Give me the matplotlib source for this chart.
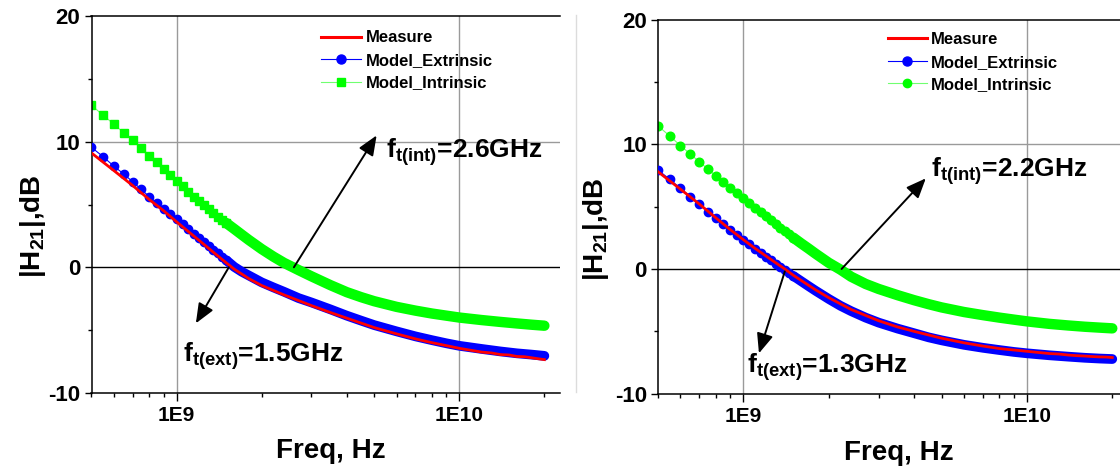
import numpy as np
import matplotlib
matplotlib.use("Agg")
import matplotlib.pyplot as plt
from matplotlib.ticker import LogLocator, NullFormatter
from matplotlib.lines import Line2D

plt.rcParams['font.family'] = ['Liberation Sans', 'DejaVu Sans']
plt.rcParams['font.weight'] = 'bold'
plt.rcParams['axes.labelweight'] = 'bold'
plt.rcParams['axes.unicode_minus'] = False
plt.rcParams['mathtext.fontset'] = 'custom'
plt.rcParams['mathtext.rm'] = 'Liberation Sans:bold'
plt.rcParams['mathtext.bf'] = 'Liberation Sans:bold'
plt.rcParams['mathtext.default'] = 'rm'

# frequencies in GHz; low part every 50 MHz (distinct markers), then sparser
f_lo = [0.50, 0.55, 0.60, 0.65, 0.70, 0.75, 0.80, 0.85, 0.90, 0.95, 1.00, 1.05,
        1.10, 1.15, 1.20, 1.25, 1.30, 1.35, 1.40, 1.45, 1.50, 1.55, 1.60]
f_hi = [1.7, 1.8, 2.0, 2.2, 2.4, 2.7, 3.0, 3.5, 4.0, 4.5, 5.0, 6.0, 7.0, 8.0,
        9.0, 10, 12, 14, 16, 18, 20]

# ---- left device (ft ext 1.5 GHz / ft int 2.6 GHz)
ext_left = [9.55, 8.80, 8.05, 7.43, 6.80, 6.20, 5.63, 5.13, 4.67, 4.23, 3.82, 3.43,
            3.05, 2.69, 2.35, 2.02, 1.70, 1.40, 1.11, 0.83, 0.56, 0.29, 0.03,
            -0.35, -0.65, -1.20, -1.60, -1.95, -2.45, -2.80, -3.35, -3.85, -4.25,
            -4.60, -5.10, -5.50, -5.80, -6.05, -6.25, -6.50, -6.70, -6.85, -6.95, -7.05]
int_left = [12.9, 12.1, 11.4, 10.7, 10.1, 9.5, 8.9, 8.4, 7.85, 7.35, 6.9, 6.45,
            6.02, 5.63, 5.27, 4.93, 4.62, 4.32, 4.04, 3.77, 3.52, 3.28, 3.05,
            2.60, 2.18, 1.45, 0.85, 0.35, -0.22, -0.72, -1.42, -1.98, -2.38,
            -2.70, -3.15, -3.45, -3.68, -3.85, -4.00, -4.20, -4.35, -4.47, -4.57, -4.65]
meas_f_left = [0.5, 0.6, 0.7, 0.8, 0.9, 1.0, 1.1, 1.2, 1.3, 1.4, 1.5, 1.6, 1.8, 2.0,
               2.4, 3.0, 3.5, 4.0, 5.0, 6.0, 7.0, 8.0, 10, 12, 13, 14, 15, 16, 17, 18, 19, 20]
meas_left = [9.1, 7.7, 6.5, 5.4, 4.5, 3.62, 2.85, 2.15, 1.5, 0.9, 0.35, -0.15, -0.9, -1.45,
             -2.2, -3.05, -3.6, -4.05, -4.8, -5.3, -5.7, -6.0, -6.45, -6.75, -6.82, -6.95,
             -6.98, -7.1, -7.12, -7.2, -7.28, -7.35]

# ---- right device (ft ext 1.3 GHz / ft int 2.2 GHz)
ext_right = [7.94, 7.19, 6.47, 5.80, 5.21, 4.60, 4.06, 3.61, 3.13, 2.70, 2.33, 1.97,
             1.63, 1.31, 1.00, 0.71, 0.43, 0.17, -0.08, -0.32, -0.55, -0.77, -0.98,
             -1.38, -1.75, -2.40, -2.95, -3.38, -3.90, -4.30, -4.78, -5.15, -5.48,
             -5.72, -6.08, -6.32, -6.50, -6.65, -6.76, -6.92, -7.03, -7.12, -7.18, -7.22]
int_right = [11.47, 10.67, 9.89, 9.22, 8.58, 8.02, 7.46, 6.98, 6.50, 6.09, 5.67, 5.27,
             4.92, 4.57, 4.23, 3.91, 3.60, 3.31, 3.03, 2.77, 2.52, 2.28, 2.05,
             1.63, 1.22, 0.50, -0.05, -0.62, -1.20, -1.60, -2.10, -2.50, -2.82,
             -3.08, -3.45, -3.70, -3.90, -4.06, -4.20, -4.40, -4.53, -4.63, -4.70, -4.76]
meas_f_right = [0.5, 0.6, 0.7, 0.8, 0.9, 1.0, 1.1, 1.2, 1.3, 1.4, 1.5, 1.6, 1.8, 2.0,
                2.4, 3.0, 3.5, 4.0, 5.0, 6.0, 7.0, 8.0, 10, 12, 13, 14, 15, 16, 17, 18, 19, 20]
meas_right = [7.8, 6.4, 5.2, 4.1, 3.15, 2.35, 1.65, 1.05, 0.5, 0.0, -0.5, -0.92, -1.68, -2.3,
              -3.25, -4.15, -4.65, -5.0, -5.55, -5.92, -6.18, -6.38, -6.6, -6.78, -6.82,
              -6.9, -6.95, -6.98, -7.02, -7.05, -7.06, -7.1]

RED = '#ff0000'
BLUE = '#0000ff'
GREEN = '#00ff00'
LGREEN = '#70ff70'

fig = plt.figure(figsize=(11.2, 4.71), dpi=100)
W, H = 1120.0, 471.0


def panel(rect, xmax, ext, intr, mf, meas, int_marker, ann):
    ax = fig.add_axes(rect)
    f = np.array(f_lo + f_hi) * 1e9
    n_lo = len(f_lo) - 3
    ext = np.array(ext)
    intr = np.array(intr)
    ax.set_xscale('log')
    ax.set_xlim(5e8, xmax)
    ax.set_ylim(-10, 20)

    ax.axvline(1e9, color='#9a9a9a', lw=1, zorder=0)
    ax.axvline(1e10, color='#9a9a9a', lw=1, zorder=0)
    ax.axhline(10, color='#9a9a9a', lw=1, zorder=0)
    ax.axhline(0, color='black', lw=1, zorder=0.5)

    msz = 6.0 if int_marker == 's' else 6.2
    # intrinsic model
    ax.plot(f, intr, color=LGREEN, lw=0.8, zorder=2)
    ax.plot(f[n_lo:], intr[n_lo:], color=GREEN, lw=7.5, solid_capstyle='round', zorder=2)
    ax.plot(f[:n_lo + 1], intr[:n_lo + 1], ls='none', marker=int_marker, ms=msz,
            color=GREEN, mec=GREEN, zorder=2)
    # extrinsic model
    ax.plot(f, ext, color=BLUE, lw=0.8, zorder=3)
    ax.plot(f[n_lo:], ext[n_lo:], color=BLUE, lw=7.0, solid_capstyle='round', zorder=3)
    ax.plot(f[:n_lo + 1], ext[:n_lo + 1], ls='none', marker='o', ms=6.0,
            color=BLUE, mec=BLUE, zorder=3)
    # measurement
    ax.plot(np.array(mf) * 1e9, meas, color=RED, lw=2.0, zorder=4)

    ax.set_yticks([-10, 0, 10, 20])
    ax.set_yticks([-5, 5, 15], minor=True)
    ax.set_xticks([1e9, 1e10], ['1E9', '1E10'])
    ax.xaxis.set_minor_locator(LogLocator(base=10, subs=np.arange(2, 10)))
    ax.xaxis.set_minor_formatter(NullFormatter())
    ax.tick_params(axis='x', which='major', direction='out', length=6, width=1,
                   labelsize=15, pad=3.5)
    ax.tick_params(axis='x', which='minor', direction='out', length=3, width=1)
    ax.tick_params(axis='y', which='major', direction='out', length=5, width=1,
                   labelsize=16, pad=3)
    ax.tick_params(axis='y', which='minor', direction='out', length=3, width=1)
    ax.spines['right'].set_visible(False)
    for s in ('left', 'top', 'bottom'):
        ax.spines[s].set_linewidth(1.1)

    ax.set_xlabel('Freq, Hz', fontsize=20)
    ax.set_ylabel(r'|H$_{21}$|,dB', fontsize=20)
    ax.xaxis.set_label_coords(*ann['xlab'])
    ax.yaxis.set_label_coords(*ann['ylab'])
    ax.yaxis.label.set_va('baseline')

    handles = [Line2D([], [], color=RED, lw=2.2),
               Line2D([], [], color=BLUE, lw=0.8, marker='o', ms=6.5),
               Line2D([], [], color=LGREEN, lw=0.8, marker=int_marker, ms=6.0,
                      mfc=GREEN, mec=GREEN)]
    ax.legend(handles, ['Measure', 'Model_Extrinsic', 'Model_Intrinsic'],
              loc='upper left', bbox_to_anchor=ann['leg'], frameon=False,
              prop={'size': 12, 'weight': 'bold'}, handlelength=ann['hl'],
              handletextpad=0.25, labelspacing=0.45, borderpad=0, borderaxespad=0)

    for (tail, head, tpos, txt) in ann['arrows']:
        ax.annotate('', xy=head, xytext=tail,
                    arrowprops=dict(arrowstyle='-|>,head_length=0.6,head_width=0.25',
                                    color='black', lw=1.4, shrinkA=0, shrinkB=0,
                                    mutation_scale=20), zorder=6)
        ax.text(tpos[0], tpos[1], txt, fontsize=19, fontweight='bold',
                ha='left', va='baseline', zorder=6)
    return ax


left_ann = {
    'xlab': (0.511, -0.12),
    'ylab': (-0.110, 0.442),
    'leg': (0.489, 0.962),
    'hl': 2.45,
    'arrows': [((2.6e9, 0.0), (5.1e9, 10.5), (5.49e9, 8.68), r'f$_{t(int)}$=2.6GHz'),
               ((1.53e9, 0.0), (1.17e9, -4.46), (1.055e9, -7.52), r'f$_{t(ext)}$=1.5GHz')],
}
right_ann = {
    'xlab': (0.521, -0.124),
    'ylab': (-0.119, 0.440),
    'leg': (0.4985, 0.966),
    'hl': 2.3,
    'arrows': [((2.22e9, 0.0), (4.4e9, 7.27), (4.6e9, 7.40), r'f$_{t(int)}$=2.2GHz'),
               ((1.4e9, -0.2), (1.135e9, -6.76), (1.031e9, -8.36), r'f$_{t(ext)}$=1.3GHz')],
}

# axes rectangles from pixel positions of the reference
left_rect = [91.5 / W, (H - 392.9) / H, (560 - 91.5) / W, (392.9 - 16.1) / H]
right_rect = [658 / W, (H - 393.7) / H, (1120 - 658) / W, (393.7 - 19.6) / H]
xmax_left = 10 ** (9 + (560 - 176.7) / 282.6)
xmax_right = 10 ** (9 + (1120 - 743.7) / 283.3)

panel(left_rect, xmax_left, ext_left, int_left, meas_f_left, meas_left, 's', left_ann)
panel(right_rect, xmax_right, ext_right, int_right, meas_f_right, meas_right, 'o', right_ann)

# faint border line left over from the original screenshot
fig.add_artist(Line2D([576 / W, 576 / W], [1 - 15 / H, 1 - 392 / H],
                      color='#dcdcdc', lw=1))

fig.savefig('out.png', dpi=100)
